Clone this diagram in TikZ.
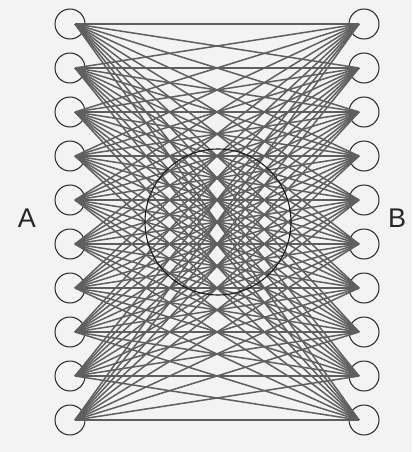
\documentclass[tikz,border=0pt]{standalone}
\usepackage{fontspec}
\setmainfont{Liberation Sans}
\definecolor{bg}{RGB}{243,243,243}
\definecolor{edge}{RGB}{95,95,95}
\begin{document}
\begin{tikzpicture}[x=1pt,y=-1pt,
  port/.style={circle,draw=black!85,line width=1pt,minimum size=30pt,inner sep=0pt},
  link/.style={draw=edge,line width=1.5pt},
  lbl/.style={font=\fontsize{27}{27}\selectfont,text=black!85}]
\fill[bg] (0,0) rectangle (412,452);
\useasboundingbox (0,0) rectangle (412,452);
\foreach \i in {0,...,9}{
  \node[port] (L\i) at (70,{24+44*\i}) {};
  \node[port] (R\i) at (364,{24+44*\i}) {};
  \coordinate (l\i) at (75,{24+44*\i});
  \coordinate (r\i) at (359,{24+44*\i});
}
\foreach \i in {0,...,9}{
  \foreach \j in {0,...,9}{
    \draw[link] (l\i) -- (r\j);
  }
}
\node[circle,draw=black!90,line width=1.1pt,minimum size=146pt,inner sep=0pt] (C) at (218,222) {};
\node[lbl] (A) at (27,218) {A};
\node[lbl] (B) at (397,218) {B};
\end{tikzpicture}
\end{document}
